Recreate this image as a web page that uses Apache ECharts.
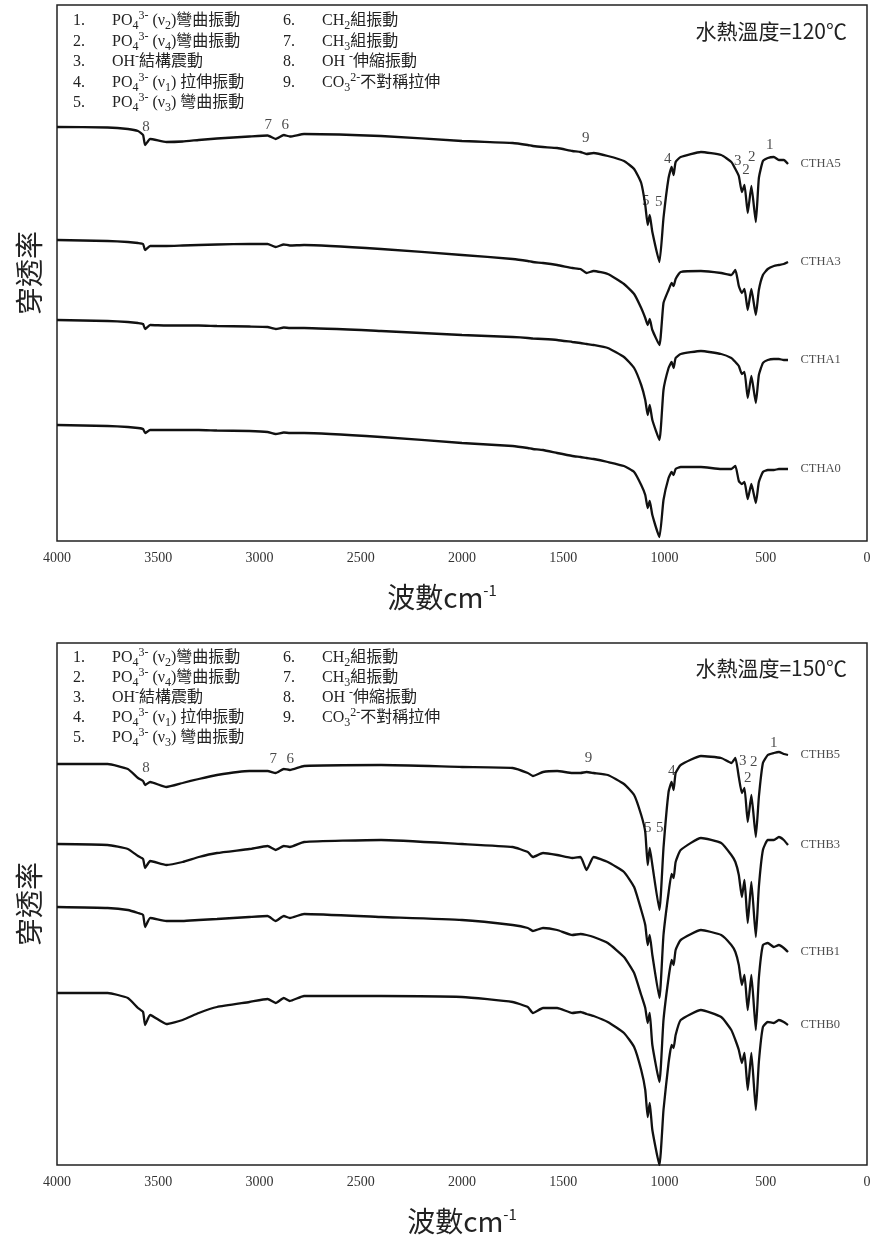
<!DOCTYPE html>
<html><head><meta charset="utf-8">
<script src="https://cdn.jsdelivr.net/npm/echarts@6/dist/echarts.min.js"></script>
<style>html,body{margin:0;padding:0;background:#fff}#c{width:875px;height:1247px}</style>
</head><body><div id="c"></div>
<script>
// shared wavenumber grid (cm-1)
const wavenumbers = [4000,3750,3650,3600,3575,3565,3540,3460,3380,3300,
  3210,3050,2960,2920,2880,2850,2780,2400,2000,1750,
  1675,1650,1600,1530,1455,1415,1385,1350,1280,1200,
  1150,1115,1095,1083,1073,1060,1025,1005,980,965,
  955,945,920,820,720,670,650,633,618,605,
  589,571,549,534,514,490,460,435,411,390];

// 120°C panel (offset transmittance, arbitrary units)
const CTHA5 = [414,413.5,412,410,406,396,402,399,399.5,401,
  402.5,404.5,405.5,402,406,404.5,407,405,400,398,
  396,395,394,393,390,389,387,388,385,380,
  372,358,336,316,326,309,279,323,363,374,
  366,379,384,389,386,379,372,365,349,356,
  328,355,319,363,380,383,384,381,381,377];
const CTHA3 = [301,300,299,298,297,291,295,295,295.5,296,
  296.5,297,297,294,296.5,295.5,296,292,286,282,
  280,279,278,276,273,272,268,270,267,257,
  247,233,223,216,222,211,196,238,251,258,
  255,262,269,270,268,266,271,255,248,252,
  231,252,226,251,266,272,275,276,277,279];
const CTHA1 = [221,220,219,218,217,212,216,215.5,215.5,215.5,
  215,214.5,214,212,213.5,213,213,210,206,204,
  203,202.5,202,201,199,198,197,196,193,184,
  173,156,141,126,136,121,101,151,173,179,
  173,183,187,190,187,183,179,175,167,169,
  143,165,138,166,178,181,182,182,181,181];
const CTHA0 = [116,115,114,113,112,108,111,111,111,111,
  110.5,110,109,107,108.5,108,108,104,98,95,
  93,92,91,88,85,84,83,82,79,75,
  69,56,46,33,40,26,4,41,63,69,
  66,72,74,74,72,72,75,60,57,59,
  42,57,38,59,69,71,71,72,72,72];

// 150°C panel
const CTHB5 = [401,401,396,387,384,380,383,378,382,386,
  390,394,394,392,396,395,399,400,398,397,
  392,389,393,394,392,392,393,392,390,381,
  370,350,333,300,317,300,255,317,373,383,
  375,392,400,409,407,402,407,388,372,377,
  343,370,328,368,402,410,412,413,411,410];
const CTHB3 = [321,320,316,309,306,297,304,300,303,308,
  312,316,319,315,319,318,323,325,321,318,
  313,308,312,310,307,308,295,308,303,293,
  278,255,240,220,230,210,167,230,272,291,
  287,303,315,327,322,310,303,290,268,285,
  242,283,228,278,315,325,325,328,325,320];
const CTHB1 = [258,257,255,252,250,238,247,244,244,245,
  246,248,249,244,249,247,251,248,245,240,
  237,234,237,235,230,231,230,228,222,208,
  192,170,157,142,152,120,83,145,187,205,
  200,215,225,235,230,220,213,200,180,190,
  155,190,135,187,220,222,218,220,217,213];
const CTHB0 = [172,172,167,157,153,140,150,141,145,152,
  158,163,166,162,167,164,169,169,168,163,
  158,152,157,157,152,153,151,149,143,132,
  118,95,75,48,62,35,0,55,102,120,
  117,130,145,155,148,135,125,115,102,112,
  75,112,55,103,138,143,142,145,143,140];

const topNames = ['CTHA5','CTHA3','CTHA1','CTHA0'];
const botNames = ['CTHB5','CTHB3','CTHB1','CTHB0'];

// peak number annotations
const topMarkLabels = ['8','7','6','9','4','5','5','3','2','2','1'];
const topMarkWn     = [3560,2957,2873,1389,984,1093,1028,638,598,569,480];
const topMarkVal    = [414,416,416,403,382,340,339,380,371,384,396];
const botMarkLabels = ['8','7','6','9','4','5','5','3','2','2','1'];
const botMarkWn     = [3560,2932,2848,1375,964,1083,1023,613,559,589,460];
const botMarkVal    = [397,406,406,407,394,337,337,404,403,387,422];

// legend text
const legendNums1 = ['1.','2.','3.','4.','5.'];
const legendText1 = ['PO{sub|4}{sup|3-} (ν{sub|2})彎曲振動','PO{sub|4}{sup|3-} (ν{sub|4})彎曲振動','OH{sup|-}結構震動','PO{sub|4}{sup|3-} (ν{sub|1}) 拉伸振動','PO{sub|4}{sup|3-} (ν{sub|3}) 彎曲振動'];
const legendNums2 = ['6.','7.','8.','9.'];
const legendText2 = ['CH{sub|2}組振動','CH{sub|3}組振動','OH {sup|-}伸縮振動','CO{sub|3}{sup|2-}不對稱拉伸'];
const panelTitles = ['水熱溫度=120℃','水熱溫度=150℃'];

const SERIF = '"Liberation Serif","Noto Sans CJK TC",serif';
const CJK = '"Noto Sans CJK TC","Noto Sans CJK SC",sans-serif';

function pairs(arr){ return wavenumbers.map((w,i)=>[w, arr[i]]); }
function spec(name, arr, idx){
  return {type:'line', name:name, data:pairs(arr), xAxisIndex:idx, yAxisIndex:idx,
    symbol:'none', smooth:0.15, animation:false, silent:true,
    lineStyle:{color:'#111', width:2.3}};
}
function marks(labels, wn, val, idx){
  return {type:'scatter', xAxisIndex:idx, yAxisIndex:idx, symbolSize:1, silent:true, animation:false,
    itemStyle:{color:'rgba(0,0,0,0)'},
    data: labels.map((l,i)=>({name:l, value:[wn[i], val[i]]})),
    label:{show:true, position:'inside', formatter:'{b}', fontFamily:SERIF, fontSize:15, color:'#1a1a1a'}};
}
function nameLabels(names, arrs, idx){
  const last = wavenumbers.length - 1;
  return {type:'scatter', xAxisIndex:idx, yAxisIndex:idx, symbolSize:1, silent:true, animation:false,
    itemStyle:{color:'rgba(0,0,0,0)'},
    data: names.map((n,i)=>({name:n, value:[wavenumbers[last], arrs[i][last]]})),
    label:{show:true, position:'right', distance:12, formatter:'{b}', fontFamily:SERIF, fontSize:12.5, color:'#222'}};
}
const rich = {
  sub:{fontSize:12, verticalAlign:'bottom', fontFamily:SERIF, fill:'#222'},
  sup:{fontSize:12, verticalAlign:'top', fontFamily:SERIF, fill:'#222'}
};
function legendBlock(y0, step, title, ty){
  const els = [];
  const t = (x,y,text)=>({type:'text', x:x, y:y, silent:true,
    style:{text:text, fontSize:16, fontFamily:SERIF, fill:'#222', verticalAlign:'middle', lineHeight:22, rich:rich}});
  legendNums1.forEach((n,i)=>{ els.push(t(73, y0+i*step, n)); els.push(t(112, y0+i*step, legendText1[i])); });
  legendNums2.forEach((n,i)=>{ els.push(t(283, y0+i*step, n)); els.push(t(322, y0+i*step, legendText2[i])); });
  els.push({type:'text', x:847, y:ty, silent:true,
    style:{text:title, fontSize:21, fontFamily:CJK, fill:'#222', align:'right', verticalAlign:'middle'}});
  return els;
}
function xAx(idx, pad){
  return {type:'value', gridIndex:idx, min:0, max:4000, interval:500, inverse:true,
    axisLine:{show:false}, axisTick:{show:false}, splitLine:{show:false},
    axisLabel:{fontFamily:SERIF, fontSize:14, color:'#333', margin:10, formatter:(v)=>String(v)},
    name:'波數cm{sup|-1}', nameLocation:'middle', nameGap:42,
    nameTextStyle:{fontFamily:CJK, fontSize:28, color:'#222', padding:pad,
      rich:{sup:{fontSize:15, verticalAlign:'top', fontFamily:CJK, color:'#222'}}}};
}
function yAx(idx, max){
  return {type:'value', gridIndex:idx, min:0, max:max,
    axisLine:{show:false}, axisTick:{show:false}, splitLine:{show:false}, axisLabel:{show:false},
    name:'穿透率', nameLocation:'middle', nameRotate:90, nameGap:14,
    nameTextStyle:{fontFamily:CJK, fontSize:28, color:'#222'}};
}

const chart = echarts.init(document.getElementById('c'), null, {renderer:'canvas'});
chart.setOption({
  backgroundColor:'#fff',
  animation:false,
  grid:[
    {left:57, top:5, width:810, height:536, show:true, borderColor:'#222', borderWidth:1.5, backgroundColor:'transparent'},
    {left:57, top:643, width:810, height:522, show:true, borderColor:'#222', borderWidth:1.5, backgroundColor:'transparent'}
  ],
  xAxis:[xAx(0,[0,40,0,0]), xAx(1,[0,0,0,0])],
  yAxis:[yAx(0,536), yAx(1,522)],
  series:[
    spec('CTHA5',CTHA5,0), spec('CTHA3',CTHA3,0), spec('CTHA1',CTHA1,0), spec('CTHA0',CTHA0,0),
    spec('CTHB5',CTHB5,1), spec('CTHB3',CTHB3,1), spec('CTHB1',CTHB1,1), spec('CTHB0',CTHB0,1),
    marks(topMarkLabels, topMarkWn, topMarkVal, 0),
    marks(botMarkLabels, botMarkWn, botMarkVal, 1),
    nameLabels(topNames, [CTHA5,CTHA3,CTHA1,CTHA0], 0),
    nameLabels(botNames, [CTHB5,CTHB3,CTHB1,CTHB0], 1)
  ],
  graphic: legendBlock(21, 20.5, panelTitles[0], 31).concat(legendBlock(658, 20, panelTitles[1], 668))
});
</script></body></html>
